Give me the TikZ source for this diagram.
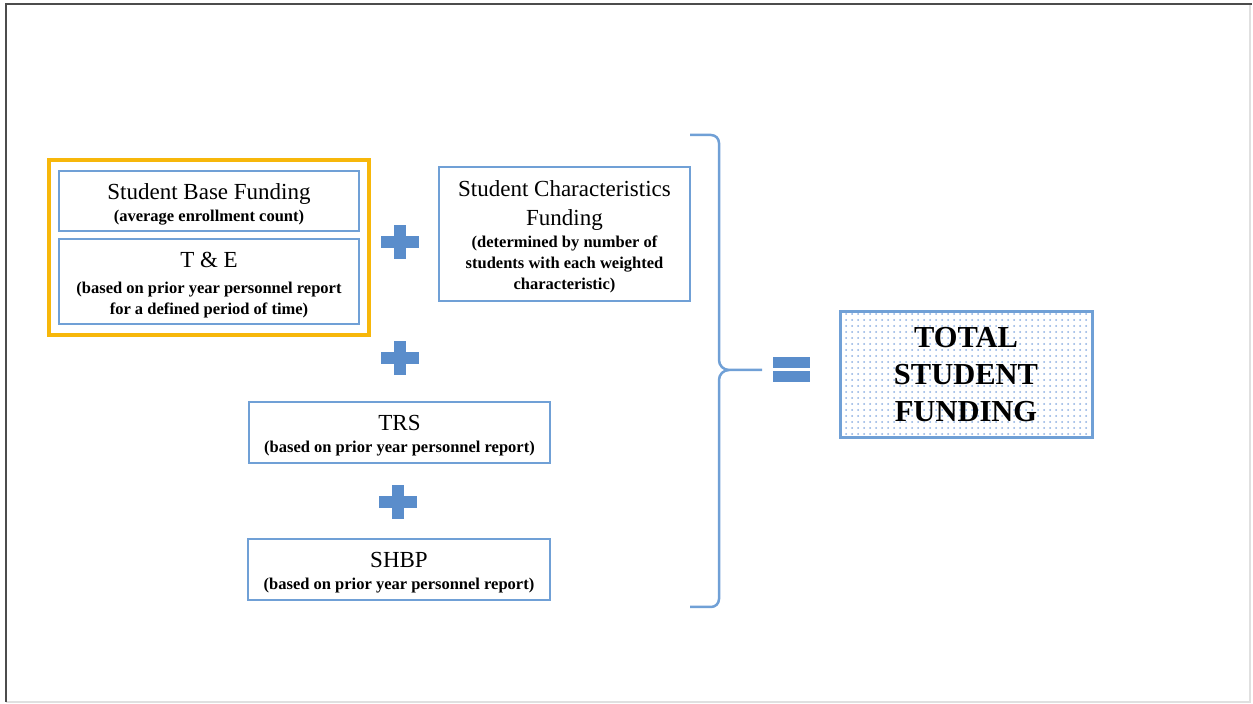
\documentclass[tikz,border=0pt]{standalone}
\usepackage{fontspec}
\setmainfont{Liberation Serif}
\usepackage{tikz}
\usetikzlibrary{positioning,fit,patterns.meta}
\definecolor{boxblue}{RGB}{112,160,214}
\definecolor{opblue}{RGB}{90,141,203}
\definecolor{groupgold}{RGB}{247,183,10}
\definecolor{dotblue}{RGB}{140,175,225}
\newcommand{\headtxt}{\fontsize{23}{28}\selectfont}
\newcommand{\subtxt}{\fontsize{16.5}{21}\selectfont\bfseries}
\tikzset{
  fundbox/.style={
    draw=boxblue,
    line width=2pt,
    align=center,
    inner sep=2pt,
    font=\headtxt
  },
  plusop/.style={
    inner sep=0pt, minimum width=38pt, minimum height=34pt,
    path picture={
      \fill[opblue] ([yshift=-6pt]path picture bounding box.west) rectangle ([yshift=6pt]path picture bounding box.east);
      \fill[opblue] ([xshift=-6pt]path picture bounding box.south) rectangle ([xshift=6pt]path picture bounding box.north);
    }
  },
  eqop/.style={
    inner sep=0pt, minimum width=37pt, minimum height=25pt,
    path picture={
      \fill[opblue] (path picture bounding box.south west) rectangle ([yshift=11pt]path picture bounding box.south east);
      \fill[opblue] ([yshift=-11pt]path picture bounding box.north west) rectangle (path picture bounding box.north east);
    }
  }
}

\begin{document}
\begin{tikzpicture}[x=1pt,y=1pt]
        \useasboundingbox (0,0) rectangle (1253,704);
        \draw[black!12, line width=1.5pt] (1250,700) -- (1250,2) -- (6,2);
        \draw[black!70, line width=2pt] (6,2) -- (6,700) -- (1252,700);
        \node [fundbox, minimum width=300pt, minimum height=60pt] (SBF) at (209,503)
          {\rule{0pt}{22pt}Student Base Funding\\[-6pt]{\subtxt (average enrollment count)}};
        \node [fundbox, minimum width=300pt, minimum height=85pt, below=6pt of SBF] (TE)
          {\rule{0pt}{22pt}T \& E\\[-2pt]{\subtxt (based on prior year personnel report}\\[-7pt]{\subtxt for a defined period of time)}};
        \node [draw=groupgold, line width=4pt, inner xsep=9pt, inner ysep=10pt, fit=(SBF) (TE)] (Group) {};
        \node [fundbox, minimum width=251pt, minimum height=134pt] (SCF) at (564.5,470)
          {\rule{0pt}{22pt}Student Characteristics\\[1pt]Funding\\[-6pt]{\subtxt (determined by number of}\\[-7pt]{\subtxt students with each weighted}\\[-7pt]{\subtxt characteristic)}};
        \node [plusop] (PlusA) at (400,462) {};
        \node [plusop] (PlusB) at (400,346) {};
        \node [fundbox, minimum width=301pt, minimum height=61pt] (TRS) at (399.5,271.5)
          {\rule{0pt}{22pt}TRS\\[-6pt]{\subtxt (based on prior year personnel report)}};
        \node [plusop] (PlusC) at (398,202) {};
        \node [fundbox, minimum width=302pt, minimum height=61pt] (SHBP) at (399,134.5)
          {\rule{0pt}{22pt}SHBP\\[-6pt]{\subtxt (based on prior year personnel report)}};
        % brace round the parts
        \coordinate (BraceTop) at (690,569);
        \coordinate (BraceTip) at (762,334);
        \coordinate (BraceBot) at (690,97);
        \draw[boxblue, line width=2.5pt] (BraceTop) -- ++(21,0) to[out=0,in=90] ++(8,-8) -- (719,344)
          to[out=-90,in=180] (729,334) -- (BraceTip);
        \draw[boxblue, line width=2.5pt] (729,334) to[out=180,in=90] (719,324) -- (719,105)
          to[out=-90,in=0] ++(-8,-8) -- (BraceBot);
        \node [eqop] (Equals) at (791.5,334.5) {};
        \node [draw=boxblue, line width=3pt, preaction={fill=white},
               pattern={Dots[distance=6pt,radius=1pt]}, pattern color=dotblue,
               minimum width=252pt, minimum height=126pt, align=center,
               font=\fontsize{30.5}{37}\selectfont\bfseries] (Total) at (966,329)
          {TOTAL\\STUDENT\\FUNDING};
      \end{tikzpicture}
\end{document}
